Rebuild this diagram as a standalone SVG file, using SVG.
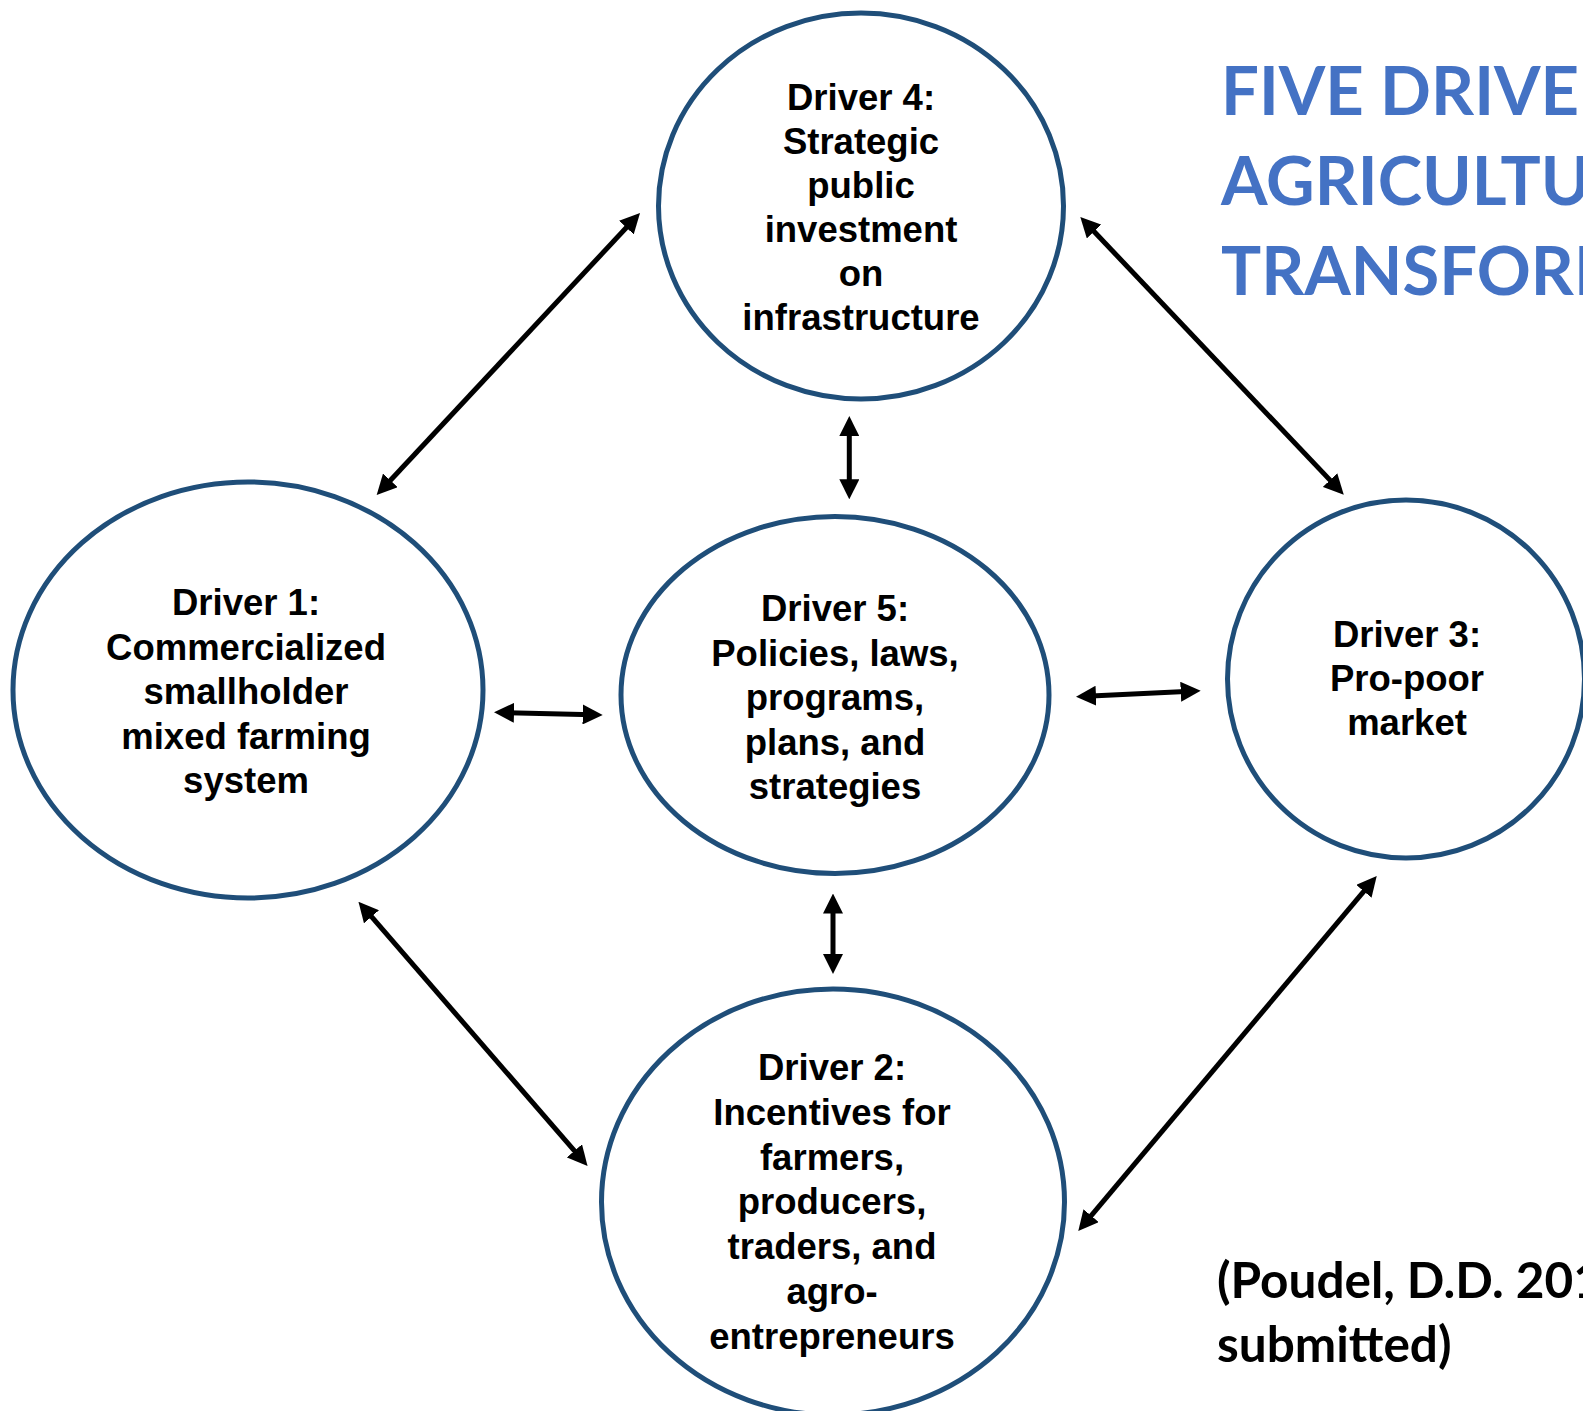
<svg xmlns="http://www.w3.org/2000/svg" width="1583" height="1411" viewBox="0 0 1583 1411">
<style>
.node{fill:#ffffff;stroke:#1F4E79;stroke-width:5}
.lbl{font-family:"Liberation Sans",Arial,sans-serif;font-weight:700;font-size:36.5px;fill:#000;text-anchor:middle}
.conn{stroke:#000;stroke-width:5;fill:none;marker-start:url(#ah);marker-end:url(#ah)}
.title{font-family:Lato,"Open Sans",sans-serif;font-weight:700;font-size:67px;fill:#4472C4}
.cite{font-family:Lato,"Open Sans",sans-serif;font-weight:700;font-size:49.5px;fill:#000}
</style>
<defs>
<marker id="ah" markerUnits="userSpaceOnUse" markerWidth="20" markerHeight="20" refX="10" refY="10" orient="auto-start-reverse" viewBox="0 0 20 20">
<path d="M0,0 L20,10 L0,20 z" fill="#000"/>
</marker>
</defs>
<rect width="1583" height="1411" fill="#ffffff"/>
<g id="connectors">
<line class="conn" x1="383.5" y1="487.7" x2="633.2" y2="220.3"/>
<line class="conn" x1="1087.2" y1="224.3" x2="1336.9" y2="487.4"/>
<line class="conn" x1="849.3" y1="426" x2="849.3" y2="489.3"/>
<line class="conn" x1="504" y1="712.6" x2="592.7" y2="714.7"/>
<line class="conn" x1="1086" y1="696.2" x2="1190.7" y2="691.2"/>
<line class="conn" x1="833" y1="903.5" x2="833" y2="964"/>
<line class="conn" x1="365" y1="909.2" x2="581" y2="1158.4"/>
<line class="conn" x1="1084.7" y1="1223.3" x2="1370.3" y2="883.7"/>
</g>
<g id="driver4">
<ellipse class="node" cx="861" cy="206" rx="202.5" ry="193"/>
<text class="lbl" x="861" y="110">Driver 4:</text>
<text class="lbl" x="861" y="154">Strategic</text>
<text class="lbl" x="861" y="198">public</text>
<text class="lbl" x="861" y="242">investment</text>
<text class="lbl" x="861" y="286">on</text>
<text class="lbl" x="861" y="330">infrastructure</text>
</g>
<g id="driver1">
<ellipse class="node" cx="248" cy="690" rx="235" ry="208"/>
<text class="lbl" x="246" y="615">Driver 1:</text>
<text class="lbl" x="246" y="659.5">Commercialized</text>
<text class="lbl" x="246" y="704">smallholder</text>
<text class="lbl" x="246" y="748.5">mixed farming</text>
<text class="lbl" x="246" y="793">system</text>
</g>
<g id="driver5">
<ellipse class="node" cx="835" cy="695" rx="214" ry="178.5"/>
<text class="lbl" x="835" y="621">Driver 5:</text>
<text class="lbl" x="835" y="665.5">Policies, laws,</text>
<text class="lbl" x="835" y="710">programs,</text>
<text class="lbl" x="835" y="754.5">plans, and</text>
<text class="lbl" x="835" y="799">strategies</text>
</g>
<g id="driver3">
<ellipse class="node" cx="1406" cy="679" rx="178.5" ry="179"/>
<text class="lbl" x="1407" y="647">Driver 3:</text>
<text class="lbl" x="1407" y="691">Pro-poor</text>
<text class="lbl" x="1407" y="735">market</text>
</g>
<g id="driver2">
<ellipse class="node" cx="833" cy="1202" rx="231.5" ry="213"/>
<text class="lbl" x="832" y="1080">Driver 2:</text>
<text class="lbl" x="832" y="1125">Incentives for</text>
<text class="lbl" x="832" y="1170">farmers,</text>
<text class="lbl" x="832" y="1214">producers,</text>
<text class="lbl" x="832" y="1259">traders, and</text>
<text class="lbl" x="832" y="1304">agro-</text>
<text class="lbl" x="832" y="1349">entrepreneurs</text>
</g>
<g id="title">
<text class="title" x="1221" y="115">FIVE DRIVER</text>
<text class="title" x="1221" y="205">AGRICULTUR</text>
<text class="title" x="1221" y="295">TRANSFORM</text>
</g>
<g id="citation">
<text class="cite" x="1217" y="1298">(Poudel, D.D. 201</text>
<text class="cite" x="1217" y="1362">submitted)</text>
</g>
</svg>
